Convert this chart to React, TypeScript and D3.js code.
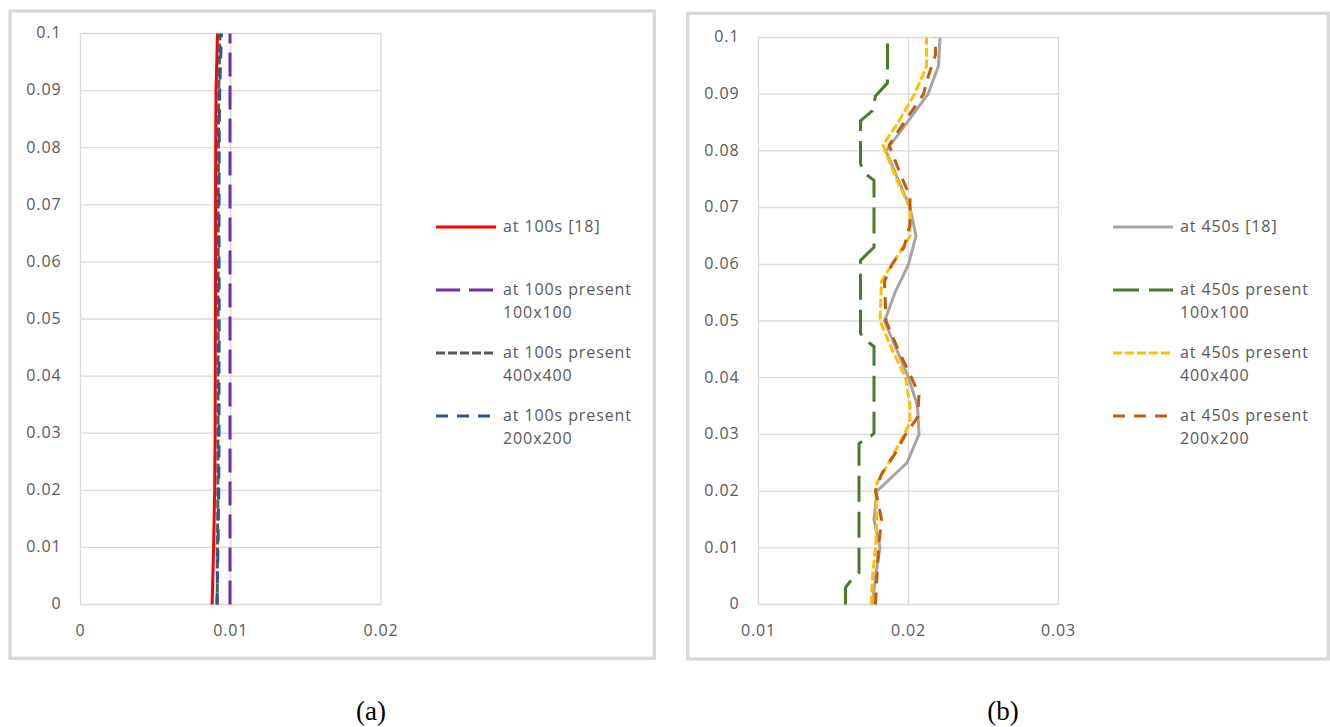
import React, { useRef, useEffect } from 'react';
import * as d3 from 'd3';

// ---- panel (a): profiles at 100 s ----
const depthA = [0, 0.01, 0.02, 0.03, 0.04, 0.05, 0.06, 0.07, 0.08, 0.09, 0.1];
const ref100s = [0.00876, 0.00886, 0.00893, 0.00896, 0.00897, 0.00898, 0.00899, 0.00899, 0.009, 0.00902, 0.00912];
const p100s100 = [0.00995, 0.00995, 0.00995, 0.00995, 0.00995, 0.00995, 0.00995, 0.00995, 0.00995, 0.00995, 0.00995];
const p100s400 = [0.0091, 0.00912, 0.00914, 0.00915, 0.00915, 0.00916, 0.00916, 0.00917, 0.00918, 0.0092, 0.00928];
const p100s200 = [0.00908, 0.00915, 0.0092, 0.00922, 0.00922, 0.00923, 0.00922, 0.00922, 0.00923, 0.00926, 0.00938];

// ---- panel (b): profiles at 450 s ----
const depthRef450 = [0, 0.005, 0.01, 0.015, 0.02, 0.025, 0.03, 0.035, 0.04, 0.045, 0.05, 0.055, 0.06, 0.065, 0.07, 0.075, 0.08, 0.085, 0.09, 0.095, 0.1];
const ref450s = [0.0176, 0.0178, 0.0181, 0.0177, 0.0179, 0.0199, 0.0207, 0.0206, 0.02, 0.0192, 0.0184, 0.0191, 0.02, 0.0205, 0.0201, 0.0193, 0.0185, 0.0199, 0.0213, 0.022, 0.0221];

const depth450s100 = [0, 0.003, 0.0047, 0.0056, 0.0284, 0.0297, 0.0302, 0.0455, 0.0465, 0.0478, 0.0607, 0.063, 0.0748, 0.076, 0.0777, 0.0853, 0.0871, 0.0897, 0.092, 0.1];
const p450s100 = [0.0158, 0.0158, 0.0163, 0.0167, 0.0167, 0.0175, 0.0177, 0.0177, 0.0172, 0.0168, 0.0168, 0.0177, 0.0177, 0.0171, 0.0168, 0.0168, 0.0176, 0.0178, 0.0186, 0.0186];

const depth450s400 = [0, 0.005, 0.01, 0.015, 0.021, 0.025, 0.03, 0.032, 0.035, 0.04, 0.045, 0.05, 0.057, 0.06, 0.065, 0.07, 0.075, 0.081, 0.085, 0.09, 0.093, 0.095, 0.1];
const p450s400 = [0.0175, 0.0176, 0.0178, 0.0179, 0.0178, 0.0187, 0.0197, 0.0201, 0.0201, 0.0198, 0.0189, 0.0181, 0.0182, 0.0189, 0.0201, 0.0201, 0.0192, 0.0183, 0.0193, 0.0204, 0.0209, 0.0212, 0.0212];

const depth450s200 = [0, 0.005, 0.01, 0.015, 0.019, 0.02, 0.023, 0.027, 0.03, 0.033, 0.037, 0.04, 0.045, 0.05, 0.057, 0.06, 0.063, 0.067, 0.072, 0.075, 0.081, 0.085, 0.09, 0.093, 0.097, 0.1];
const p450s200 = [0.0178, 0.0179, 0.018, 0.0182, 0.0179, 0.0178, 0.0182, 0.0192, 0.0198, 0.0206, 0.0207, 0.0202, 0.0193, 0.0185, 0.0184, 0.0189, 0.0197, 0.0201, 0.0201, 0.0196, 0.0187, 0.0197, 0.021, 0.0213, 0.0218, 0.0218];

const yTicks = [0, 0.01, 0.02, 0.03, 0.04, 0.05, 0.06, 0.07, 0.08, 0.09, 0.1];
const xTicksA = [0, 0.01, 0.02];
const xTicksB = [0.01, 0.02, 0.03];

const seriesA = [
  { label: ['at 100s [18]'], xs: ref100s, ys: depthA, color: '#ff0000', dash: null },
  { label: ['at 100s present', '100x100'], xs: p100s100, ys: depthA, color: '#7030a0', dash: '24 9' },
  { label: ['at 100s present', '400x400'], xs: p100s400, ys: depthA, color: '#595959', dash: '9 3' },
  { label: ['at 100s present', '200x200'], xs: p100s200, ys: depthA, color: '#2f5597', dash: '12 9' },
];

const seriesB = [
  { label: ['at 450s [18]'], xs: ref450s, ys: depthRef450, color: '#a5a5a5', dash: null },
  { label: ['at 450s present', '100x100'], xs: p450s100, ys: depth450s100, color: '#4b7a2b', dash: '26 10' },
  { label: ['at 450s present', '400x400'], xs: p450s400, ys: depth450s400, color: '#ffc000', dash: '9 3' },
  { label: ['at 450s present', '200x200'], xs: p450s200, ys: depth450s200, color: '#c55a11', dash: '12 9' },
];

const FONT = "'Open Sans', 'Liberation Sans', sans-serif";
const TEXT = '#595959';
const GRID = '#d9d9d9';

type Series = { label: string[]; xs: number[]; ys: number[]; color: string; dash: string | null };

type PanelCfg = {
  frame: [number, number, number, number];
  plot: { left: number; right: number; top: number; bottom: number };
  xDomain: [number, number];
  xTicks: number[];
  series: Series[];
  legendX: number;
  caption: string;
  captionX: number;
};

const panels: PanelCfg[] = [
  {
    frame: [10, 11, 654.3, 658.3],
    plot: { left: 80.5, right: 381, top: 33.5, bottom: 604.5 },
    xDomain: [0, 0.02],
    xTicks: xTicksA,
    series: seriesA,
    legendX: 436,
    caption: '(a)',
    captionX: 371,
  },
  {
    frame: [687.7, 13.3, 1328.3, 659],
    plot: { left: 758.5, right: 1058.5, top: 37.5, bottom: 604.5 },
    xDomain: [0.01, 0.03],
    xTicks: xTicksB,
    series: seriesB,
    legendX: 1113,
    caption: '(b)',
    captionX: 1003,
  },
];

const legendRows = [227, 290, 353, 416];

const App = () => {
  const svgRef = useRef<SVGSVGElement | null>(null);

  useEffect(() => {
    const svg = d3.select(svgRef.current);
    svg.selectAll('*').remove();

    svg.append('rect').attr('width', 1330).attr('height', 727).attr('fill', '#fff');

    panels.forEach(p => {
      const [fx0, fy0, fx1, fy1] = p.frame;
      svg
        .append('rect')
        .attr('x', fx0)
        .attr('y', fy0)
        .attr('width', fx1 - fx0)
        .attr('height', fy1 - fy0)
        .attr('fill', 'none')
        .attr('stroke', GRID)
        .attr('stroke-width', 3.3);

      const x = d3.scaleLinear().domain(p.xDomain).range([p.plot.left, p.plot.right]);
      const y = d3.scaleLinear().domain([0, 0.1]).range([p.plot.bottom, p.plot.top]);

      const g = svg.append('g');

      // gridlines
      g.selectAll('.hgrid')
        .data(yTicks)
        .join('line')
        .attr('x1', p.plot.left)
        .attr('x2', p.plot.right)
        .attr('y1', d => y(d))
        .attr('y2', d => y(d))
        .attr('stroke', GRID)
        .attr('stroke-width', 1.3);

      g.selectAll('.vgrid')
        .data(p.xTicks)
        .join('line')
        .attr('x1', d => x(d))
        .attr('x2', d => x(d))
        .attr('y1', p.plot.top)
        .attr('y2', p.plot.bottom)
        .attr('stroke', GRID)
        .attr('stroke-width', 1.3);

      // tick labels
      g.selectAll('.ylab')
        .data(yTicks)
        .join('text')
        .attr('x', p.plot.left - 19)
        .attr('y', d => y(d))
        .attr('dy', '0.3em')
        .attr('text-anchor', 'end')
        .style('font-family', FONT)
        .style('font-size', '16px')
        .style('letter-spacing', '0.9px')
        .style('fill', TEXT)
        .text(d => d3.format('~g')(d));

      g.selectAll('.xlab')
        .data(p.xTicks)
        .join('text')
        .attr('x', d => x(d))
        .attr('y', p.plot.bottom + 27)
        .attr('dy', '0.3em')
        .attr('text-anchor', 'middle')
        .style('font-family', FONT)
        .style('font-size', '16px')
        .style('letter-spacing', '0.9px')
        .style('fill', TEXT)
        .text(d => d3.format('~g')(d));

      // series
      const line = d3
        .line<[number, number]>()
        .x(d => x(d[0]))
        .y(d => y(d[1]));

      p.series.forEach(s => {
        const pts = s.xs.map((v, i) => [v, s.ys[i]] as [number, number]);
        g.append('path')
          .attr('d', line(pts))
          .attr('fill', 'none')
          .attr('stroke', s.color)
          .attr('stroke-width', 3)
          .attr('stroke-linejoin', 'round')
          .attr('stroke-dasharray', s.dash);
      });

      // legend
      p.series.forEach((s, i) => {
        const ly = legendRows[i];
        g.append('line')
          .attr('x1', p.legendX)
          .attr('x2', p.legendX + 60)
          .attr('y1', ly)
          .attr('y2', ly)
          .attr('stroke', s.color)
          .attr('stroke-width', 3)
          .attr('stroke-dasharray', s.dash);
        s.label.forEach((t, j) => {
          g.append('text')
            .attr('x', p.legendX + 67)
            .attr('y', ly + j * 23)
            .attr('dy', '0.33em')
            .style('font-family', FONT)
            .style('font-size', '16px')
            .style('letter-spacing', '0.9px')
            .style('fill', TEXT)
            .text(t);
        });
      });

      svg
        .append('text')
        .attr('x', p.captionX)
        .attr('y', 711)
        .attr('dy', '0.35em')
        .attr('text-anchor', 'middle')
        .style('font-family', "'Liberation Serif', 'Times New Roman', serif")
        .style('font-size', '27px')
        .style('fill', '#000')
        .text(p.caption);
    });
  }, []);

  return (
    <svg
      ref={svgRef}
      width={1330}
      height={727}
      style={{ position: 'absolute', left: 0, top: 0, display: 'block' }}
    />
  );
};

export default App;
